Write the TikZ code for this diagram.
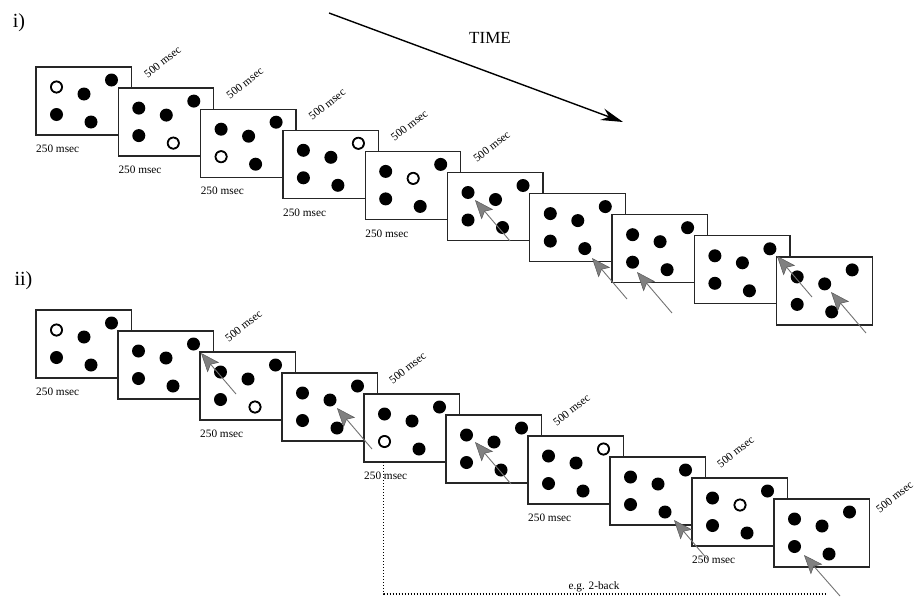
\documentclass[tikz,border=0pt]{standalone}
\usepackage{fontspec}
\setmainfont{Liberation Serif}
\usetikzlibrary{arrows.meta,calc}
\newcommand\stimcard[4]{%
  \node[card] (#1) at (#2,#3) {};
  \begin{scope}[shift={(#1.north west)}]
    \fill (20.5,20) circle (6.5pt) (48,27) circle (6.5pt) (75.5,13) circle (6.5pt)
          (20.5,47.5) circle (6.5pt) (55,55) circle (6.5pt);
    \ifx\relax#4\relax\else \draw[doto] #4 circle (5.6pt);\fi
  \end{scope}}
\begin{document}
\begin{tikzpicture}[x=1pt,y=-1pt,
  card/.style={draw=black!85, line width=1.3pt, fill=white, rectangle,
    minimum width=95.5pt, minimum height=68pt, inner sep=0pt, outer sep=0pt,
    anchor=north west},
  doto/.style={draw=black, fill=white, line width=1.4pt},
  lab/.style={font=\fontsize{11.3}{13}\selectfont, inner sep=0pt},
  lab250/.style={lab, anchor=west},
  lab500/.style={lab, rotate=38},
  probe/.style={draw=black!55, line width=0.9pt,
    -{Stealth[length=19pt, width=15pt, inset=4pt, fill=black!50, color=black!65, line width=0.5pt]}},
  timearrow/.style={draw=black, line width=1.4pt, -{Stealth[length=22pt, width=12pt]}},
  dotline/.style={draw=black, line width=1.2pt, dash pattern=on 1.1pt off 1.9pt},
  panel/.style={font=\fontsize{20}{24}\selectfont, inner sep=0pt}
]
\useasboundingbox (0,0) rectangle (914,597);

% panel labels and time arrow
\node[panel] (pi) at (19,22.5) {i)};
\node[panel] (pii) at (23.5,281) {ii)};
\node[font=\fontsize{17}{20}\selectfont, inner sep=0pt] (time) at (490,38) {TIME};
\coordinate (ts) at (329,13);
\coordinate (te) at (623,122);
\draw[timearrow] (ts) -- (te);

% ---------------- panel i ----------------
\stimcard{a1}{36}{67}{(20.5,20)}
\stimcard{a2}{118.3}{88.1}{(55,55)}
\stimcard{a3}{200.6}{109.2}{(20.5,47.5)}
\stimcard{a4}{282.9}{130.3}{(75.5,13)}
\stimcard{a5}{365.2}{151.4}{(48,27)}
\stimcard{a6}{447.5}{172.5}{}
\stimcard{a7}{529.8}{193.6}{}
\stimcard{a8}{612.1}{214.7}{}
\stimcard{a9}{694.4}{235.8}{}
\stimcard{a10}{776.7}{256.9}{}

\foreach \f in {a1,a2,a3,a4,a5}{
  \node[lab250] at ($(\f.south west)+(0,14)$) {250 msec};
  \node[lab500] at ($(\f.north east)+(31,-5)$) {500 msec};
}

\coordinate (ah1) at (475,200);  \coordinate (at1) at (510,241);
\coordinate (ah2) at (592,258);  \coordinate (at2) at (627,299);
\coordinate (ah3) at (637,272);  \coordinate (at3) at (672,313);
\coordinate (ah4) at (777,256);  \coordinate (at4) at (812,297);
\coordinate (ah5) at (831,292);  \coordinate (at5) at (866,333);
\foreach \i in {1,...,5}{ \draw[probe] (at\i) -- (ah\i); }

% ---------------- panel ii ----------------
\stimcard{b1}{36}{310}{(20.5,20)}
\stimcard{b2}{118}{331}{}
\stimcard{b3}{200}{352}{(55,55)}
\stimcard{b4}{282}{373}{}
\stimcard{b5}{364}{394}{(20.5,47.5)}
\stimcard{b6}{446}{415}{}
\stimcard{b7}{528}{436}{(75.5,13)}
\stimcard{b8}{610}{457}{}
\stimcard{b9}{692}{478}{(48,27)}
\stimcard{b10}{774}{499}{}

\foreach \f in {b1,b3,b5,b7,b9}{
  \node[lab250] at ($(\f.south west)+(0,14)$) {250 msec};
}
\foreach \f in {b2,b4,b6,b8}{
  \node[lab500] at ($(\f.north east)+(30,-5)$) {500 msec};
}
\node[lab500] at ($(b10.north east)+(25,-2)$) {500 msec};

% dotted 2-back link
\coordinate (db) at ($(b5.south west)+(19.5,0)$);
\coordinate (dend) at (827,594);
\draw[dotline] (db) |- (dend);
\node[lab] (eg) at (594,587) {e.g. 2-back};

\coordinate (bh1) at (201,353);  \coordinate (bt1) at (236,394);
\coordinate (bh2) at (337,408);  \coordinate (bt2) at (372,449);
\coordinate (bh3) at (475,442);  \coordinate (bt3) at (511,484);
\coordinate (bh4) at (674,520);  \coordinate (bt4) at (708,560);
\coordinate (bh5) at (804,555);  \coordinate (bt5) at (840,596);
\foreach \i in {1,...,5}{ \draw[probe] (bt\i) -- (bh\i); }
\end{tikzpicture}
\end{document}
